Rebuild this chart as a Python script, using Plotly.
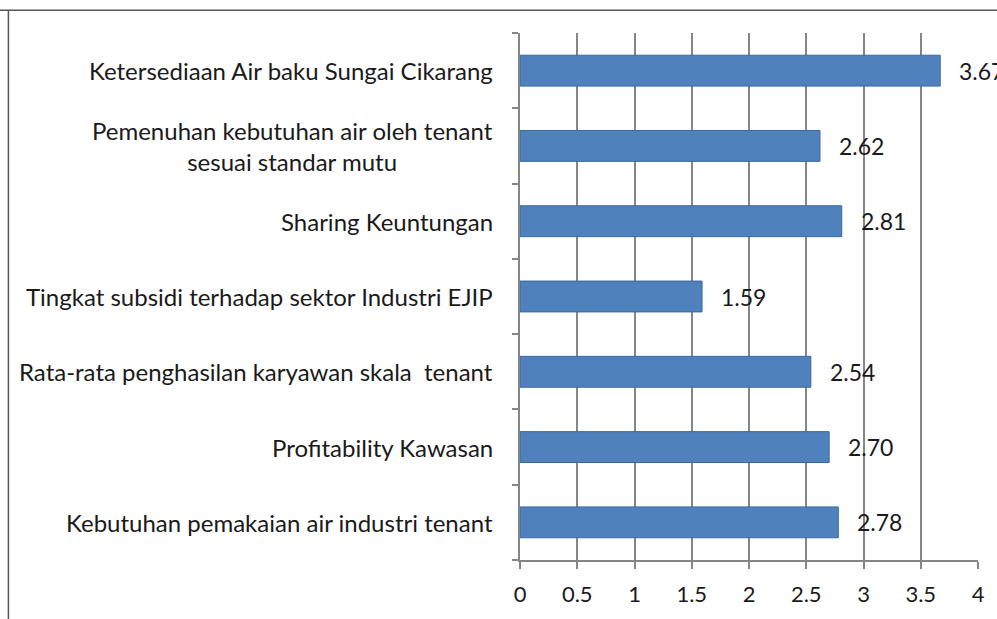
import plotly.graph_objects as go

# categories listed bottom to top (as drawn)
categories = [
    "Kebutuhan pemakaian air industri tenant",
    "Profitability Kawasan",
    "Rata-rata penghasilan karyawan skala  tenant",
    "Tingkat subsidi terhadap sektor Industri EJIP",
    "Sharing Keuntungan",
    "Pemenuhan kebutuhan air oleh tenant<br>sesuai standar mutu",
    "Ketersediaan Air baku Sungai Cikarang",
]
values = [2.78, 2.70, 2.54, 1.59, 2.81, 2.62, 3.67]
value_labels = ["2.78", "2.70", "2.54", "1.59", "2.81", "2.62", "3.67"]
x_ticks = [0, 0.5, 1, 1.5, 2, 2.5, 3, 3.5, 4]
x_tick_labels = ["0", "0.5", "1", "1.5", "2", "2.5", "3", "3.5", "4"]

FONT = "Lato"
FS = 23
GRID = "#868686"
pos = list(range(len(categories)))

fig = go.Figure()
fig.add_trace(go.Bar(
    x=values, y=pos, orientation="h", width=0.41,
    marker=dict(color="#4F81BD", line=dict(color="#3A69A0", width=1)),
    hoverinfo="x", showlegend=False,
))

# data labels to the right of each bar
for p, v, t in zip(pos, values, value_labels):
    fig.add_annotation(x=v, y=p, text=t, showarrow=False, xanchor="left",
                       xshift=17, font=dict(family=FONT, size=FS, color="#1a1a1a"))

# category labels, centred lines, right-aligned against the axis
for p, c in zip(pos, categories):
    fig.add_annotation(x=0, y=p, xref="paper", text=c, showarrow=False,
                       xanchor="right", align="center", xshift=-25,
                       font=dict(family=FONT, size=24, color="#1a1a1a"))

# outer frame (top and left edges)
fig.add_shape(type="line", xref="paper", yref="paper", x0=-1.14, x1=1.05, y0=1.043, y1=1.043)
fig.add_shape(type="line", xref="paper", yref="paper", x0=-1.117, x1=-1.117, y0=1.043, y1=-0.12)
fig.update_shapes(line=dict(color="#555555", width=1.5))

fig.update_layout(
    width=997, height=619,
    margin=dict(l=520, r=17, t=33, b=56),
    paper_bgcolor="white", plot_bgcolor="white",
    font=dict(family=FONT, size=FS, color="#1a1a1a"),
)
fig.update_xaxes(
    range=[0, 4], tickvals=x_ticks, ticktext=x_tick_labels,
    showgrid=True, gridcolor=GRID, gridwidth=1.5,
    showline=True, linecolor=GRID, linewidth=1.5,
    ticks="outside", ticklen=7, tickcolor=GRID, tickwidth=1.5,
    ticklabelstandoff=7,
    zeroline=False, tickfont=dict(family=FONT, size=FS - 1),
)
fig.update_yaxes(
    range=[-0.5, 6.5], tickvals=[i - 0.5 for i in range(8)],
    showticklabels=False, showgrid=False, zeroline=False,
    showline=True, linecolor=GRID, linewidth=1.5,
    ticks="outside", ticklen=6, tickcolor=GRID, tickwidth=1.5,
)

fig.write_html("out.html", config={"displayModeBar": False},
               post_script="document.body.style.margin='0';")
